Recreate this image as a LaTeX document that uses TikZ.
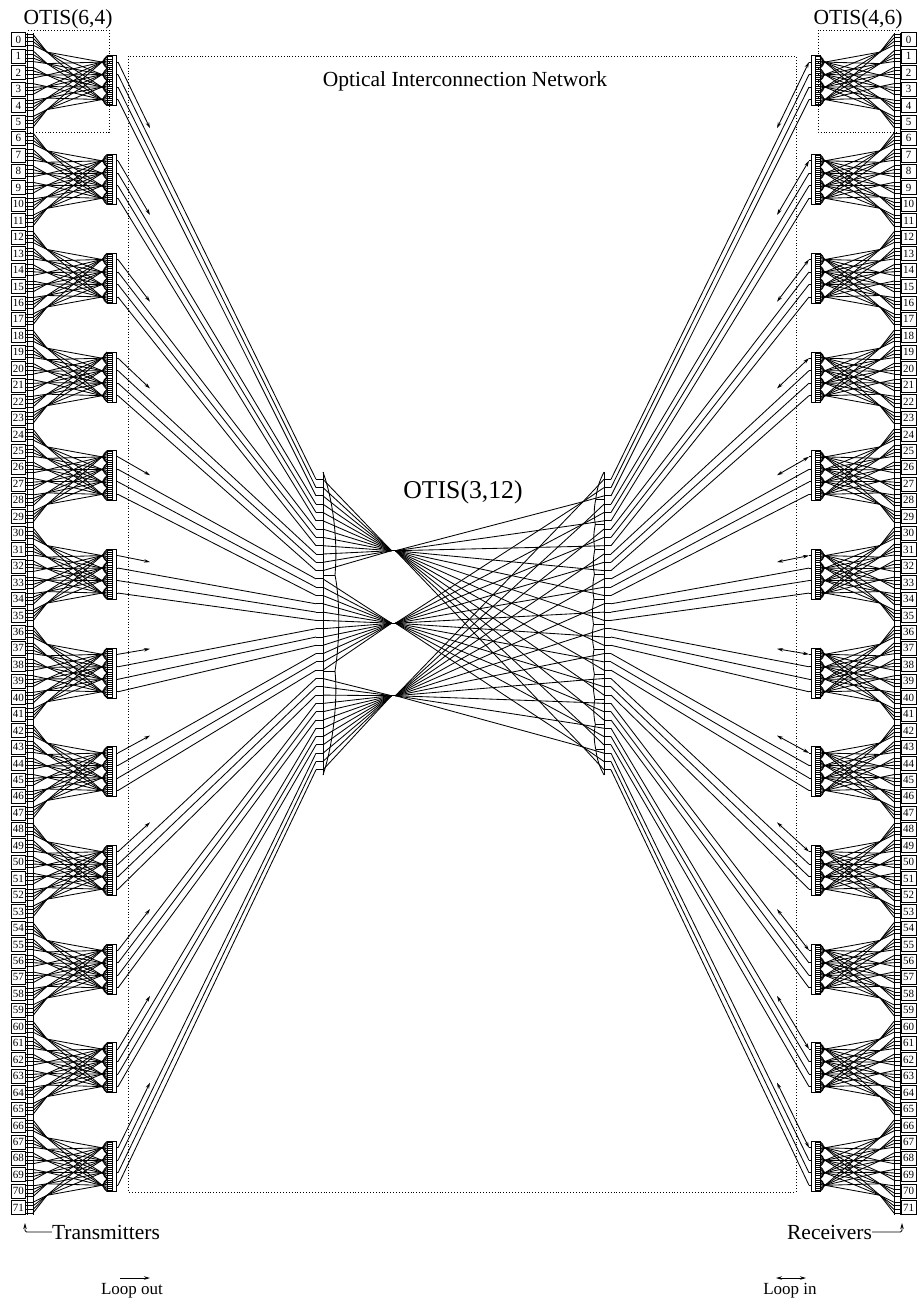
\documentclass[tikz,border=0pt]{standalone}
\usepackage{fontspec}
\setmainfont{Liberation Serif}
\usetikzlibrary{arrows.meta}
\tikzset{
    beam/.style={line width=0.85pt},
    port/.style={draw,line width=0.7pt,minimum width=14.5pt,minimum height=14pt,inner sep=0pt,font=\fontsize{11}{12}\selectfont},
    frame/.style={dotted,line width=0.9pt},
    loopout/.style={beam,-{Stealth[length=6pt,width=3.5pt]}},
    loopin/.style={beam,{Stealth[length=6pt,width=3.5pt]}-{Stealth[length=6pt,width=3.5pt]}},
    caption/.style={font=\fontsize{21.5}{24}\selectfont,inner sep=0pt},
    small/.style={font=\fontsize{17}{19}\selectfont,inner sep=0pt},
}
\newcommand{\otisside}[3]{
    \draw[beam] (27,33) -- (27,1215) (33,33) -- (33,1215);
    \draw[frame] (28,30) -- (109,30) -- (109,132) -- (30,132);
    \foreach \n in {0,...,71}{
        \pgfmathsetmacro\ty{39.7+16.45*\n}
        \node[port] (#1\n) at (18.3,\ty) {\n};
        \foreach \j in {0,...,3}{
            \coordinate (#1s\n-\j) at (33,{\ty+(\j-1.5)*3.6});
            \draw[beam] (#1\n.#3 |- #1s\n-\j) -- (#1s\n-\j);
        }
    }
    \foreach \k in {0,...,35}{
        \coordinate (#1m\k) at (316,{479.3+8.3*\k});
        \coordinate (#1c\k) at (323,{479.3+8.3*\k});
        \draw[beam] (#1m\k) -- (#1c\k);
    }
    \draw[beam] (323,472) -- (323,775);
    \foreach \g in {0,...,11}{
        \pgfmathsetmacro\yc{39.7+16.45*(6*\g+2.5)}
        \draw[beam] (107,\yc-25) rectangle (112,\yc+25) (112,\yc-25) rectangle (116,\yc+25);
        \foreach \i in {0,...,5}
            \coordinate (#1f\g-\i) at (47,{\yc+(\i-2.5)*11.5});
        \foreach \j in {0,...,3}{
            \pgfmathsetmacro\ly{\yc+(\j-1.5)*12.5}
            \coordinate (#1g\g-\j) at (102,\ly);
            \draw[beam] (107,\ly-6.25) .. controls (102,\ly-3) and (102,\ly+3) .. (107,\ly+6.25);
            \foreach \i in {0,...,5}{
                \coordinate (#1t\g-\j-\i) at (107,{\ly+(\i-2.5)*2.08});
                \draw[beam] (#1t\g-\j-\i) -- (112,{\ly+(\i-2.5)*2.08});
            }
            \coordinate (#1o\g-\j) at (118,\ly);
            \draw[beam] (116,\ly) -- (#1o\g-\j);
        }
        \foreach \i in {0,...,5}
            \foreach \j in {0,...,3}{
                \pgfmathtruncatemacro\n{6*\g+\i}
                \pgfmathtruncatemacro\jj{3-\j}
                \pgfmathtruncatemacro\ii{5-\i}
                \draw[beam] (#1s\n-\jj) -- (#1f\g-\i) -- (#1g\g-\j) -- (#1t\g-\j-\ii);
            }
        \pgfmathsetmacro\sy{\yc-18.75}
        \pgfmathsetmacro\ey{\sy+(479.3+8.3*(3*\g-1)-\sy)*32/198}
        \coordinate (#1e\g) at (150,\ey);
        \draw[#2] (#1o\g-0) -- (#1e\g);
        \foreach \j in {1,2,3}{
            \pgfmathtruncatemacro\k{3*\g+\j-1}
            \draw[beam] (#1o\g-\j) -- (#1m\k);
        }
    }
}
\begin{document}
\begin{tikzpicture}[x=1pt,y=-1pt]
    \useasboundingbox (0,0) rectangle (923,1310);
    \draw[frame] (128.5,56) rectangle (796,1192);
    \otisside{tx}{loopout}{east}
    \begin{scope}[xshift=927pt,xscale=-1]
        \otisside{rx}{loopin}{west}
    \end{scope}
    \node[caption] (otisleft) at (68,19) {OTIS(6,4)};
    \node[caption] (otisright) at (858,19) {OTIS(4,6)};
    \node[caption] (network) at (465,81) {Optical Interconnection Network};
    \node[caption,font=\fontsize{25.7}{28}\selectfont] (otismiddle) at (463,492) {OTIS(3,12)};
    \foreach \i in {0,1,2}{
        \coordinate (fl\i) at (391.5,{550.7+72.5*\i});
        \coordinate (fr\i) at (395.5,{550.7+72.5*\i});
        \draw[beam] (fl\i) -- (fr\i);
    }
    \foreach \k in {0,...,35}{
        \pgfmathtruncatemacro\i{floor(\k/12)}
        \draw[beam] (txc\k) -- (fl\i);
    }
    \foreach \j in {0,...,11}{
        \coordinate (q\j) at (583,{501.7+22.3*\j});
        \foreach \i in {0,1,2}{
            \pgfmathtruncatemacro\k{3*\j+2-\i}
            \draw[beam] (fr\i) -- (q\j) -- (rxc\k);
        }
    }
    \draw[beam] (323,575) -- (335,575) (323,671) -- (335,671);
    \draw[beam] (323,472) .. controls (333,500) and (338,540) .. (335,575)
        .. controls (340,600) and (340,640) .. (335,671)
        .. controls (338,700) and (333,745) .. (323,775);
    \foreach \j in {1,...,11}{
        \coordinate (b\j) at ({593.5+abs(\j-6)*0.45},{474.3+25*\j});
        \draw[beam] (b\j) -- (604,{474.3+25*\j});
    }
    \coordinate (b0) at (604,472);
    \coordinate (b12) at (604,775);
    \foreach \j in {0,...,11}{
        \pgfmathtruncatemacro\jj{\j+1}
        \draw[beam] (b\j) to[bend right=10] (b\jj);
    }
    \node[caption] (transmitters) at (106,1232) {Transmitters};
    \node[caption] (receivers) at (829.5,1232) {Receivers};
    \coordinate (txtip) at (25,1223);
    \coordinate (rxtip) at (902,1223);
    \draw[loopout,rounded corners=1.5pt] (transmitters.west) -| (txtip);
    \draw[loopout,rounded corners=1.5pt] (receivers.east) -| (rxtip);
    \node[small] (outtext) at (132,1291) {Loop out};
    \node[small] (intext) at (790,1291) {Loop in};
    \coordinate (outa) at (120,1278);
    \coordinate (outb) at (150,1278);
    \coordinate (ina) at (776,1278);
    \coordinate (inb) at (806,1278);
    \draw[loopout] (outa) -- (outb);
    \draw[loopin] (ina) -- (inb);
\end{tikzpicture}
\end{document}
